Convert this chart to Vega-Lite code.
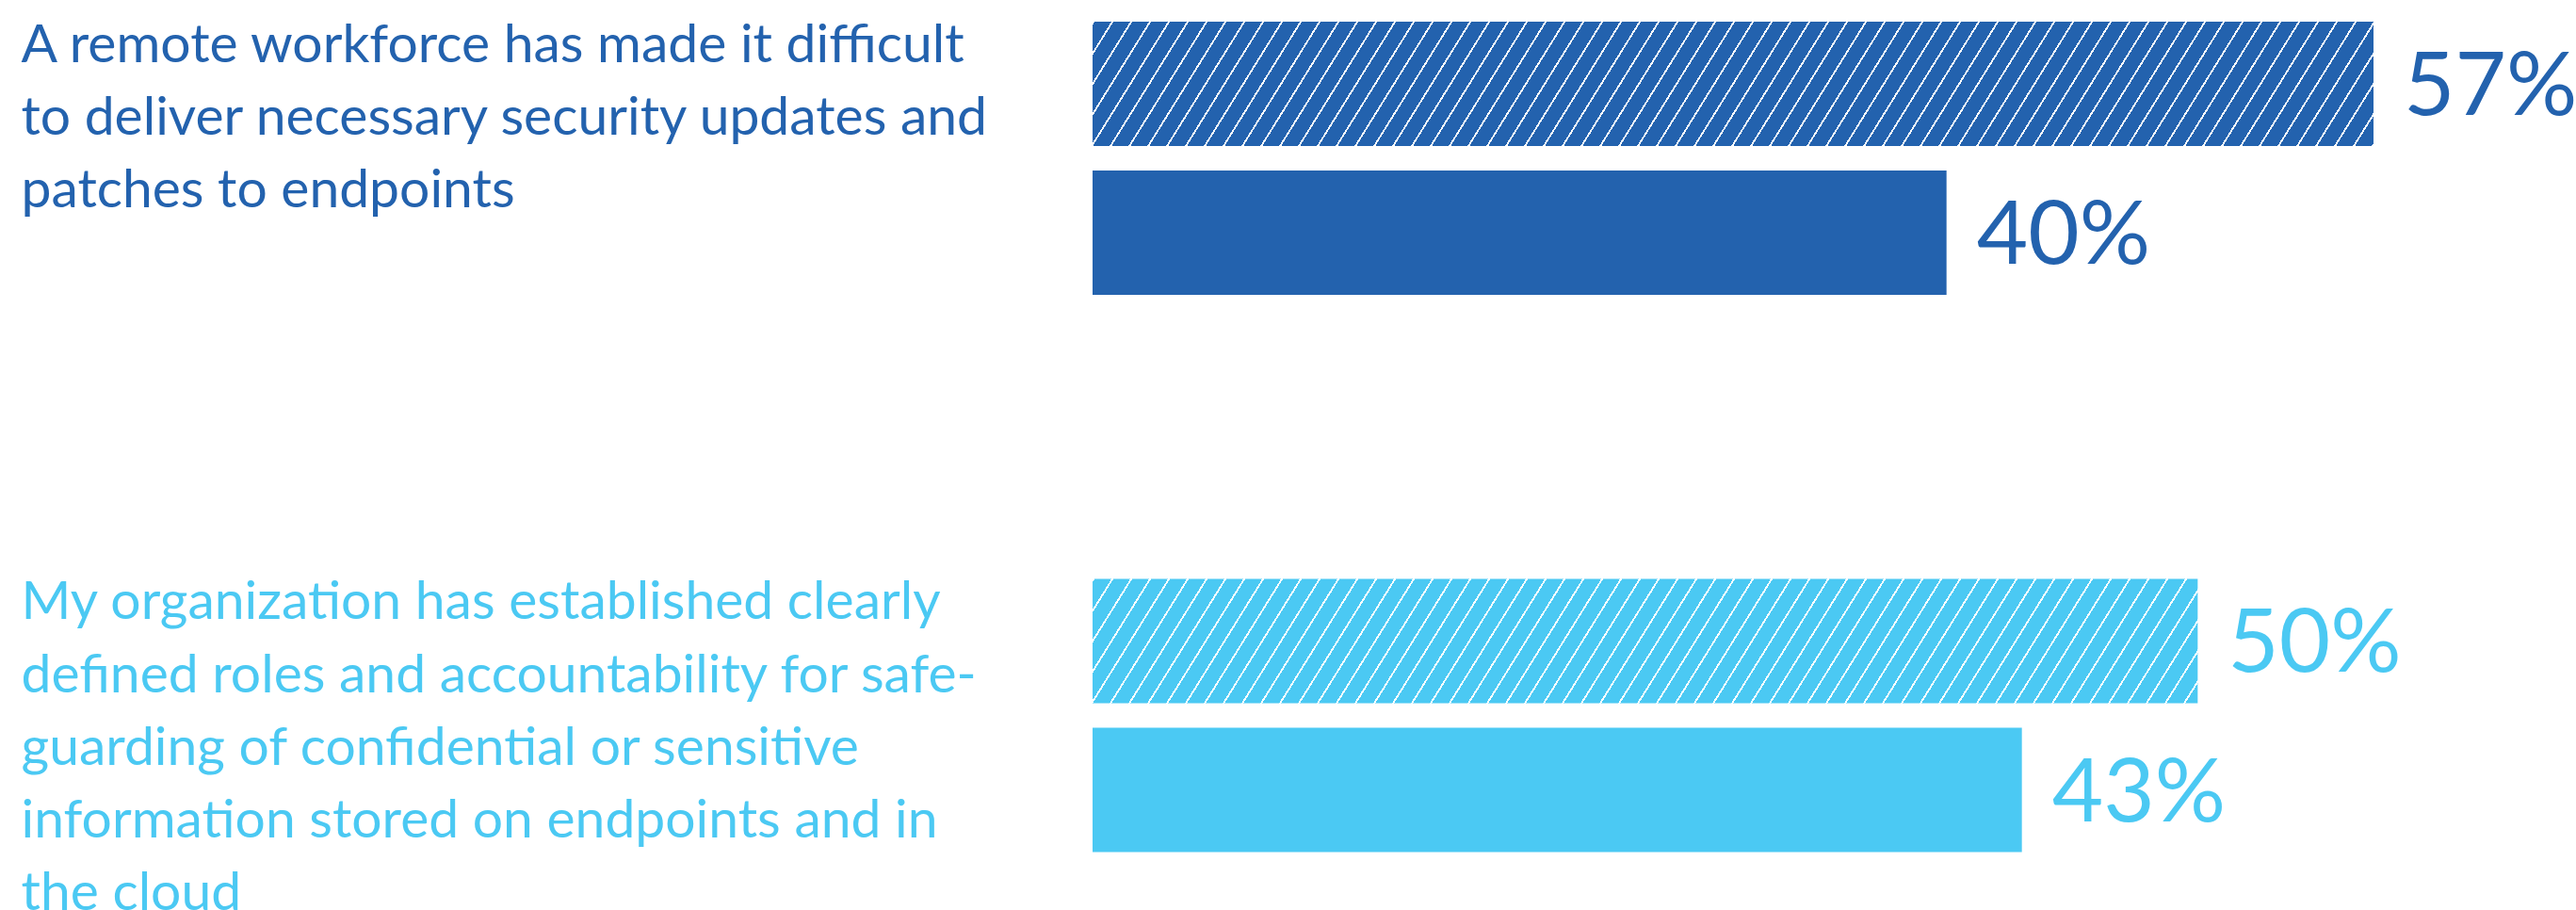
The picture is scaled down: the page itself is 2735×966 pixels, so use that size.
{
"$schema": "https://vega.github.io/schema/vega-lite/v6.json",
"width": 1440,
"height": 966,
"autosize": {"type": "none"},
"padding": {"left": 1160, "right": 135, "top": 0, "bottom": 0},
"background": "white",
"config": {"view": {"stroke": null}, "font": "Lato"},
"data": {"values": [
{"statement": "A remote workforce has made it difficult|to deliver necessary security updates and|patches to endpoints", "series": "Series 1", "value": 0.57},
{"statement": "A remote workforce has made it difficult|to deliver necessary security updates and|patches to endpoints", "series": "Series 2", "value": 0.40},
{"statement": "My organization has established clearly|defined roles and accountability for safe-|guarding of confidential or sensitive|information stored on endpoints and in|the cloud", "series": "Series 1", "value": 0.50},
{"statement": "My organization has established clearly|defined roles and accountability for safe-|guarding of confidential or sensitive|information stored on endpoints and in|the cloud", "series": "Series 2", "value": 0.43}
]},
"encoding": {
"y": {"field": "statement", "type": "nominal", "sort": null,
 "scale": {"range": [23, 904.5], "paddingInner": 0.50972, "paddingOuter": 0},
 "axis": {"title": null, "domain": false, "ticks": false, "tickSize": 0, "grid": false,
  "labelAlign": "left", "labelBaseline": "top", "labelPadding": 1138, "labelLimit": 1300, "labelOverlap": false,
  "labelFont": "Lato", "labelFontSize": 57, "labelLineHeight": 77.2, "labelOffset": -147,
  "labelExpr": "split(datum.value, '|')",
  "labelColor": {"condition": {"test": "indexof(datum.value, 'remote') >= 0", "value": "#2362ae"}, "value": "#4bc9f3"}}},
"yOffset": {"field": "series", "type": "nominal", "scale": {"domain": ["Series 1", "Series 2"], "paddingInner": 0.16456, "paddingOuter": 0}},
"x": {"field": "value", "type": "quantitative", "scale": {"domain": [0.06, 0.60], "zero": false, "nice": false}, "axis": null}
},
"layer": [
{"transform": [{"filter": "datum.series == 'Series 2'"}],
 "mark": {"type": "bar", "clip": true},
 "encoding": {"color": {"field": "statement", "type": "nominal", "sort": null, "scale": {"range": ["#2362ae", "#4bc9f3"]}, "legend": null}}},
{"transform": [{"filter": "datum.series == 'Series 1' && indexof(datum.statement, 'remote') >= 0"}],
 "mark": {"type": "bar", "clip": true, "fill": {"gradient": "linear", "x1": 0, "y1": 0, "x2": 1.311971, "y2": 0.070768, "stops": [
{"offset":0.07,"color":"#fff"},{"offset":0.0711,"color":"#fff"},{"offset":0.0711,"color":"#2362ae"},{"offset":0.08,"color":"#2362ae"},
{"offset":0.08,"color":"#fff"},{"offset":0.0811,"color":"#fff"},{"offset":0.0811,"color":"#2362ae"},{"offset":0.09,"color":"#2362ae"},
{"offset":0.09,"color":"#fff"},{"offset":0.0911,"color":"#fff"},{"offset":0.0911,"color":"#2362ae"},{"offset":0.10,"color":"#2362ae"},
{"offset":0.10,"color":"#fff"},{"offset":0.1011,"color":"#fff"},{"offset":0.1011,"color":"#2362ae"},{"offset":0.11,"color":"#2362ae"},
{"offset":0.11,"color":"#fff"},{"offset":0.1111,"color":"#fff"},{"offset":0.1111,"color":"#2362ae"},{"offset":0.12,"color":"#2362ae"},
{"offset":0.12,"color":"#fff"},{"offset":0.1211,"color":"#fff"},{"offset":0.1211,"color":"#2362ae"},{"offset":0.13,"color":"#2362ae"},
{"offset":0.13,"color":"#fff"},{"offset":0.1311,"color":"#fff"},{"offset":0.1311,"color":"#2362ae"},{"offset":0.14,"color":"#2362ae"},
{"offset":0.14,"color":"#fff"},{"offset":0.1411,"color":"#fff"},{"offset":0.1411,"color":"#2362ae"},{"offset":0.15,"color":"#2362ae"},
{"offset":0.15,"color":"#fff"},{"offset":0.1511,"color":"#fff"},{"offset":0.1511,"color":"#2362ae"},{"offset":0.16,"color":"#2362ae"},
{"offset":0.16,"color":"#fff"},{"offset":0.1611,"color":"#fff"},{"offset":0.1611,"color":"#2362ae"},{"offset":0.17,"color":"#2362ae"},
{"offset":0.17,"color":"#fff"},{"offset":0.1711,"color":"#fff"},{"offset":0.1711,"color":"#2362ae"},{"offset":0.18,"color":"#2362ae"},
{"offset":0.18,"color":"#fff"},{"offset":0.1811,"color":"#fff"},{"offset":0.1811,"color":"#2362ae"},{"offset":0.19,"color":"#2362ae"},
{"offset":0.19,"color":"#fff"},{"offset":0.1911,"color":"#fff"},{"offset":0.1911,"color":"#2362ae"},{"offset":0.20,"color":"#2362ae"},
{"offset":0.20,"color":"#fff"},{"offset":0.2011,"color":"#fff"},{"offset":0.2011,"color":"#2362ae"},{"offset":0.21,"color":"#2362ae"},
{"offset":0.21,"color":"#fff"},{"offset":0.2111,"color":"#fff"},{"offset":0.2111,"color":"#2362ae"},{"offset":0.22,"color":"#2362ae"},
{"offset":0.22,"color":"#fff"},{"offset":0.2211,"color":"#fff"},{"offset":0.2211,"color":"#2362ae"},{"offset":0.23,"color":"#2362ae"},
{"offset":0.23,"color":"#fff"},{"offset":0.2311,"color":"#fff"},{"offset":0.2311,"color":"#2362ae"},{"offset":0.24,"color":"#2362ae"},
{"offset":0.24,"color":"#fff"},{"offset":0.2411,"color":"#fff"},{"offset":0.2411,"color":"#2362ae"},{"offset":0.25,"color":"#2362ae"},
{"offset":0.25,"color":"#fff"},{"offset":0.2511,"color":"#fff"},{"offset":0.2511,"color":"#2362ae"},{"offset":0.26,"color":"#2362ae"},
{"offset":0.26,"color":"#fff"},{"offset":0.2611,"color":"#fff"},{"offset":0.2611,"color":"#2362ae"},{"offset":0.27,"color":"#2362ae"},
{"offset":0.27,"color":"#fff"},{"offset":0.2711,"color":"#fff"},{"offset":0.2711,"color":"#2362ae"},{"offset":0.28,"color":"#2362ae"},
{"offset":0.28,"color":"#fff"},{"offset":0.2811,"color":"#fff"},{"offset":0.2811,"color":"#2362ae"},{"offset":0.29,"color":"#2362ae"},
{"offset":0.29,"color":"#fff"},{"offset":0.2911,"color":"#fff"},{"offset":0.2911,"color":"#2362ae"},{"offset":0.30,"color":"#2362ae"},
{"offset":0.30,"color":"#fff"},{"offset":0.3011,"color":"#fff"},{"offset":0.3011,"color":"#2362ae"},{"offset":0.31,"color":"#2362ae"},
{"offset":0.31,"color":"#fff"},{"offset":0.3111,"color":"#fff"},{"offset":0.3111,"color":"#2362ae"},{"offset":0.32,"color":"#2362ae"},
{"offset":0.32,"color":"#fff"},{"offset":0.3211,"color":"#fff"},{"offset":0.3211,"color":"#2362ae"},{"offset":0.33,"color":"#2362ae"},
{"offset":0.33,"color":"#fff"},{"offset":0.3311,"color":"#fff"},{"offset":0.3311,"color":"#2362ae"},{"offset":0.34,"color":"#2362ae"},
{"offset":0.34,"color":"#fff"},{"offset":0.3411,"color":"#fff"},{"offset":0.3411,"color":"#2362ae"},{"offset":0.35,"color":"#2362ae"},
{"offset":0.35,"color":"#fff"},{"offset":0.3511,"color":"#fff"},{"offset":0.3511,"color":"#2362ae"},{"offset":0.36,"color":"#2362ae"},
{"offset":0.36,"color":"#fff"},{"offset":0.3611,"color":"#fff"},{"offset":0.3611,"color":"#2362ae"},{"offset":0.37,"color":"#2362ae"},
{"offset":0.37,"color":"#fff"},{"offset":0.3711,"color":"#fff"},{"offset":0.3711,"color":"#2362ae"},{"offset":0.38,"color":"#2362ae"},
{"offset":0.38,"color":"#fff"},{"offset":0.3811,"color":"#fff"},{"offset":0.3811,"color":"#2362ae"},{"offset":0.39,"color":"#2362ae"},
{"offset":0.39,"color":"#fff"},{"offset":0.3911,"color":"#fff"},{"offset":0.3911,"color":"#2362ae"},{"offset":0.40,"color":"#2362ae"},
{"offset":0.40,"color":"#fff"},{"offset":0.4011,"color":"#fff"},{"offset":0.4011,"color":"#2362ae"},{"offset":0.41,"color":"#2362ae"},
{"offset":0.41,"color":"#fff"},{"offset":0.4111,"color":"#fff"},{"offset":0.4111,"color":"#2362ae"},{"offset":0.42,"color":"#2362ae"},
{"offset":0.42,"color":"#fff"},{"offset":0.4211,"color":"#fff"},{"offset":0.4211,"color":"#2362ae"},{"offset":0.43,"color":"#2362ae"},
{"offset":0.43,"color":"#fff"},{"offset":0.4311,"color":"#fff"},{"offset":0.4311,"color":"#2362ae"},{"offset":0.44,"color":"#2362ae"},
{"offset":0.44,"color":"#fff"},{"offset":0.4411,"color":"#fff"},{"offset":0.4411,"color":"#2362ae"},{"offset":0.45,"color":"#2362ae"},
{"offset":0.45,"color":"#fff"},{"offset":0.4511,"color":"#fff"},{"offset":0.4511,"color":"#2362ae"},{"offset":0.46,"color":"#2362ae"},
{"offset":0.46,"color":"#fff"},{"offset":0.4611,"color":"#fff"},{"offset":0.4611,"color":"#2362ae"},{"offset":0.47,"color":"#2362ae"},
{"offset":0.47,"color":"#fff"},{"offset":0.4711,"color":"#fff"},{"offset":0.4711,"color":"#2362ae"},{"offset":0.48,"color":"#2362ae"},
{"offset":0.48,"color":"#fff"},{"offset":0.4811,"color":"#fff"},{"offset":0.4811,"color":"#2362ae"},{"offset":0.49,"color":"#2362ae"},
{"offset":0.49,"color":"#fff"},{"offset":0.4911,"color":"#fff"},{"offset":0.4911,"color":"#2362ae"},{"offset":0.50,"color":"#2362ae"},
{"offset":0.50,"color":"#fff"},{"offset":0.5011,"color":"#fff"},{"offset":0.5011,"color":"#2362ae"},{"offset":0.51,"color":"#2362ae"},
{"offset":0.51,"color":"#fff"},{"offset":0.5111,"color":"#fff"},{"offset":0.5111,"color":"#2362ae"},{"offset":0.52,"color":"#2362ae"},
{"offset":0.52,"color":"#fff"},{"offset":0.5211,"color":"#fff"},{"offset":0.5211,"color":"#2362ae"},{"offset":0.53,"color":"#2362ae"},
{"offset":0.53,"color":"#fff"},{"offset":0.5311,"color":"#fff"},{"offset":0.5311,"color":"#2362ae"},{"offset":0.54,"color":"#2362ae"},
{"offset":0.54,"color":"#fff"},{"offset":0.5411,"color":"#fff"},{"offset":0.5411,"color":"#2362ae"},{"offset":0.55,"color":"#2362ae"},
{"offset":0.55,"color":"#fff"},{"offset":0.5511,"color":"#fff"},{"offset":0.5511,"color":"#2362ae"},{"offset":0.56,"color":"#2362ae"},
{"offset":0.56,"color":"#fff"},{"offset":0.5611,"color":"#fff"},{"offset":0.5611,"color":"#2362ae"},{"offset":0.57,"color":"#2362ae"},
{"offset":0.57,"color":"#fff"},{"offset":0.5711,"color":"#fff"},{"offset":0.5711,"color":"#2362ae"},{"offset":0.58,"color":"#2362ae"},
{"offset":0.58,"color":"#fff"},{"offset":0.5811,"color":"#fff"},{"offset":0.5811,"color":"#2362ae"},{"offset":0.59,"color":"#2362ae"},
{"offset":0.59,"color":"#fff"},{"offset":0.5911,"color":"#fff"},{"offset":0.5911,"color":"#2362ae"},{"offset":0.60,"color":"#2362ae"},
{"offset":0.60,"color":"#fff"},{"offset":0.6011,"color":"#fff"},{"offset":0.6011,"color":"#2362ae"},{"offset":0.61,"color":"#2362ae"},
{"offset":0.61,"color":"#fff"},{"offset":0.6111,"color":"#fff"},{"offset":0.6111,"color":"#2362ae"},{"offset":0.62,"color":"#2362ae"},
{"offset":0.62,"color":"#fff"},{"offset":0.6211,"color":"#fff"},{"offset":0.6211,"color":"#2362ae"},{"offset":0.63,"color":"#2362ae"},
{"offset":0.63,"color":"#fff"},{"offset":0.6311,"color":"#fff"},{"offset":0.6311,"color":"#2362ae"},{"offset":0.64,"color":"#2362ae"},
{"offset":0.64,"color":"#fff"},{"offset":0.6411,"color":"#fff"},{"offset":0.6411,"color":"#2362ae"},{"offset":0.65,"color":"#2362ae"},
{"offset":0.65,"color":"#fff"},{"offset":0.6511,"color":"#fff"},{"offset":0.6511,"color":"#2362ae"},{"offset":0.66,"color":"#2362ae"},
{"offset":0.66,"color":"#fff"},{"offset":0.6611,"color":"#fff"},{"offset":0.6611,"color":"#2362ae"},{"offset":0.67,"color":"#2362ae"},
{"offset":0.67,"color":"#fff"},{"offset":0.6711,"color":"#fff"},{"offset":0.6711,"color":"#2362ae"},{"offset":0.68,"color":"#2362ae"},
{"offset":0.68,"color":"#fff"},{"offset":0.6811,"color":"#fff"},{"offset":0.6811,"color":"#2362ae"},{"offset":0.69,"color":"#2362ae"},
{"offset":0.69,"color":"#fff"},{"offset":0.6911,"color":"#fff"},{"offset":0.6911,"color":"#2362ae"},{"offset":0.70,"color":"#2362ae"},
{"offset":0.70,"color":"#fff"},{"offset":0.7011,"color":"#fff"},{"offset":0.7011,"color":"#2362ae"},{"offset":0.71,"color":"#2362ae"},
{"offset":0.71,"color":"#fff"},{"offset":0.7111,"color":"#fff"},{"offset":0.7111,"color":"#2362ae"},{"offset":0.72,"color":"#2362ae"},
{"offset":0.72,"color":"#fff"},{"offset":0.7211,"color":"#fff"},{"offset":0.7211,"color":"#2362ae"},{"offset":0.73,"color":"#2362ae"},
{"offset":0.73,"color":"#fff"},{"offset":0.7311,"color":"#fff"},{"offset":0.7311,"color":"#2362ae"},{"offset":0.74,"color":"#2362ae"},
{"offset":0.74,"color":"#fff"},{"offset":0.7411,"color":"#fff"},{"offset":0.7411,"color":"#2362ae"},{"offset":0.75,"color":"#2362ae"},
{"offset":0.75,"color":"#fff"},{"offset":0.7511,"color":"#fff"},{"offset":0.7511,"color":"#2362ae"},{"offset":0.76,"color":"#2362ae"},
{"offset":0.76,"color":"#fff"},{"offset":0.7611,"color":"#fff"},{"offset":0.7611,"color":"#2362ae"},{"offset":0.77,"color":"#2362ae"},
{"offset":0.77,"color":"#fff"},{"offset":0.7711,"color":"#fff"},{"offset":0.7711,"color":"#2362ae"},{"offset":0.78,"color":"#2362ae"},
{"offset":0.78,"color":"#fff"},{"offset":0.7811,"color":"#fff"},{"offset":0.7811,"color":"#2362ae"},{"offset":0.79,"color":"#2362ae"},
{"offset":0.79,"color":"#fff"},{"offset":0.7911,"color":"#fff"},{"offset":0.7911,"color":"#2362ae"},{"offset":0.80,"color":"#2362ae"},
{"offset":0.80,"color":"#fff"},{"offset":0.8011,"color":"#fff"},{"offset":0.8011,"color":"#2362ae"},{"offset":0.81,"color":"#2362ae"}
]}}},
{"transform": [{"filter": "datum.series == 'Series 1' && indexof(datum.statement, 'remote') < 0"}],
 "mark": {"type": "bar", "clip": true, "fill": {"gradient": "linear", "x1": 0, "y1": 0, "x2": 1.494352, "y2": 0.091889, "stops": [
{"offset":0.07,"color":"#fff"},{"offset":0.0711,"color":"#fff"},{"offset":0.0711,"color":"#4bc9f3"},{"offset":0.08,"color":"#4bc9f3"},
{"offset":0.08,"color":"#fff"},{"offset":0.0811,"color":"#fff"},{"offset":0.0811,"color":"#4bc9f3"},{"offset":0.09,"color":"#4bc9f3"},
{"offset":0.09,"color":"#fff"},{"offset":0.0911,"color":"#fff"},{"offset":0.0911,"color":"#4bc9f3"},{"offset":0.10,"color":"#4bc9f3"},
{"offset":0.10,"color":"#fff"},{"offset":0.1011,"color":"#fff"},{"offset":0.1011,"color":"#4bc9f3"},{"offset":0.11,"color":"#4bc9f3"},
{"offset":0.11,"color":"#fff"},{"offset":0.1111,"color":"#fff"},{"offset":0.1111,"color":"#4bc9f3"},{"offset":0.12,"color":"#4bc9f3"},
{"offset":0.12,"color":"#fff"},{"offset":0.1211,"color":"#fff"},{"offset":0.1211,"color":"#4bc9f3"},{"offset":0.13,"color":"#4bc9f3"},
{"offset":0.13,"color":"#fff"},{"offset":0.1311,"color":"#fff"},{"offset":0.1311,"color":"#4bc9f3"},{"offset":0.14,"color":"#4bc9f3"},
{"offset":0.14,"color":"#fff"},{"offset":0.1411,"color":"#fff"},{"offset":0.1411,"color":"#4bc9f3"},{"offset":0.15,"color":"#4bc9f3"},
{"offset":0.15,"color":"#fff"},{"offset":0.1511,"color":"#fff"},{"offset":0.1511,"color":"#4bc9f3"},{"offset":0.16,"color":"#4bc9f3"},
{"offset":0.16,"color":"#fff"},{"offset":0.1611,"color":"#fff"},{"offset":0.1611,"color":"#4bc9f3"},{"offset":0.17,"color":"#4bc9f3"},
{"offset":0.17,"color":"#fff"},{"offset":0.1711,"color":"#fff"},{"offset":0.1711,"color":"#4bc9f3"},{"offset":0.18,"color":"#4bc9f3"},
{"offset":0.18,"color":"#fff"},{"offset":0.1811,"color":"#fff"},{"offset":0.1811,"color":"#4bc9f3"},{"offset":0.19,"color":"#4bc9f3"},
{"offset":0.19,"color":"#fff"},{"offset":0.1911,"color":"#fff"},{"offset":0.1911,"color":"#4bc9f3"},{"offset":0.20,"color":"#4bc9f3"},
{"offset":0.20,"color":"#fff"},{"offset":0.2011,"color":"#fff"},{"offset":0.2011,"color":"#4bc9f3"},{"offset":0.21,"color":"#4bc9f3"},
{"offset":0.21,"color":"#fff"},{"offset":0.2111,"color":"#fff"},{"offset":0.2111,"color":"#4bc9f3"},{"offset":0.22,"color":"#4bc9f3"},
{"offset":0.22,"color":"#fff"},{"offset":0.2211,"color":"#fff"},{"offset":0.2211,"color":"#4bc9f3"},{"offset":0.23,"color":"#4bc9f3"},
{"offset":0.23,"color":"#fff"},{"offset":0.2311,"color":"#fff"},{"offset":0.2311,"color":"#4bc9f3"},{"offset":0.24,"color":"#4bc9f3"},
{"offset":0.24,"color":"#fff"},{"offset":0.2411,"color":"#fff"},{"offset":0.2411,"color":"#4bc9f3"},{"offset":0.25,"color":"#4bc9f3"},
{"offset":0.25,"color":"#fff"},{"offset":0.2511,"color":"#fff"},{"offset":0.2511,"color":"#4bc9f3"},{"offset":0.26,"color":"#4bc9f3"},
{"offset":0.26,"color":"#fff"},{"offset":0.2611,"color":"#fff"},{"offset":0.2611,"color":"#4bc9f3"},{"offset":0.27,"color":"#4bc9f3"},
{"offset":0.27,"color":"#fff"},{"offset":0.2711,"color":"#fff"},{"offset":0.2711,"color":"#4bc9f3"},{"offset":0.28,"color":"#4bc9f3"},
{"offset":0.28,"color":"#fff"},{"offset":0.2811,"color":"#fff"},{"offset":0.2811,"color":"#4bc9f3"},{"offset":0.29,"color":"#4bc9f3"},
{"offset":0.29,"color":"#fff"},{"offset":0.2911,"color":"#fff"},{"offset":0.2911,"color":"#4bc9f3"},{"offset":0.30,"color":"#4bc9f3"},
{"offset":0.30,"color":"#fff"},{"offset":0.3011,"color":"#fff"},{"offset":0.3011,"color":"#4bc9f3"},{"offset":0.31,"color":"#4bc9f3"},
{"offset":0.31,"color":"#fff"},{"offset":0.3111,"color":"#fff"},{"offset":0.3111,"color":"#4bc9f3"},{"offset":0.32,"color":"#4bc9f3"},
{"offset":0.32,"color":"#fff"},{"offset":0.3211,"color":"#fff"},{"offset":0.3211,"color":"#4bc9f3"},{"offset":0.33,"color":"#4bc9f3"},
{"offset":0.33,"color":"#fff"},{"offset":0.3311,"color":"#fff"},{"offset":0.3311,"color":"#4bc9f3"},{"offset":0.34,"color":"#4bc9f3"},
{"offset":0.34,"color":"#fff"},{"offset":0.3411,"color":"#fff"},{"offset":0.3411,"color":"#4bc9f3"},{"offset":0.35,"color":"#4bc9f3"},
{"offset":0.35,"color":"#fff"},{"offset":0.3511,"color":"#fff"},{"offset":0.3511,"color":"#4bc9f3"},{"offset":0.36,"color":"#4bc9f3"},
{"offset":0.36,"color":"#fff"},{"offset":0.3611,"color":"#fff"},{"offset":0.3611,"color":"#4bc9f3"},{"offset":0.37,"color":"#4bc9f3"},
{"offset":0.37,"color":"#fff"},{"offset":0.3711,"color":"#fff"},{"offset":0.3711,"color":"#4bc9f3"},{"offset":0.38,"color":"#4bc9f3"},
{"offset":0.38,"color":"#fff"},{"offset":0.3811,"color":"#fff"},{"offset":0.3811,"color":"#4bc9f3"},{"offset":0.39,"color":"#4bc9f3"},
{"offset":0.39,"color":"#fff"},{"offset":0.3911,"color":"#fff"},{"offset":0.3911,"color":"#4bc9f3"},{"offset":0.40,"color":"#4bc9f3"},
{"offset":0.40,"color":"#fff"},{"offset":0.4011,"color":"#fff"},{"offset":0.4011,"color":"#4bc9f3"},{"offset":0.41,"color":"#4bc9f3"},
{"offset":0.41,"color":"#fff"},{"offset":0.4111,"color":"#fff"},{"offset":0.4111,"color":"#4bc9f3"},{"offset":0.42,"color":"#4bc9f3"},
{"offset":0.42,"color":"#fff"},{"offset":0.4211,"color":"#fff"},{"offset":0.4211,"color":"#4bc9f3"},{"offset":0.43,"color":"#4bc9f3"},
{"offset":0.43,"color":"#fff"},{"offset":0.4311,"color":"#fff"},{"offset":0.4311,"color":"#4bc9f3"},{"offset":0.44,"color":"#4bc9f3"},
{"offset":0.44,"color":"#fff"},{"offset":0.4411,"color":"#fff"},{"offset":0.4411,"color":"#4bc9f3"},{"offset":0.45,"color":"#4bc9f3"},
{"offset":0.45,"color":"#fff"},{"offset":0.4511,"color":"#fff"},{"offset":0.4511,"color":"#4bc9f3"},{"offset":0.46,"color":"#4bc9f3"},
{"offset":0.46,"color":"#fff"},{"offset":0.4611,"color":"#fff"},{"offset":0.4611,"color":"#4bc9f3"},{"offset":0.47,"color":"#4bc9f3"},
{"offset":0.47,"color":"#fff"},{"offset":0.4711,"color":"#fff"},{"offset":0.4711,"color":"#4bc9f3"},{"offset":0.48,"color":"#4bc9f3"},
{"offset":0.48,"color":"#fff"},{"offset":0.4811,"color":"#fff"},{"offset":0.4811,"color":"#4bc9f3"},{"offset":0.49,"color":"#4bc9f3"},
{"offset":0.49,"color":"#fff"},{"offset":0.4911,"color":"#fff"},{"offset":0.4911,"color":"#4bc9f3"},{"offset":0.50,"color":"#4bc9f3"},
{"offset":0.50,"color":"#fff"},{"offset":0.5011,"color":"#fff"},{"offset":0.5011,"color":"#4bc9f3"},{"offset":0.51,"color":"#4bc9f3"},
{"offset":0.51,"color":"#fff"},{"offset":0.5111,"color":"#fff"},{"offset":0.5111,"color":"#4bc9f3"},{"offset":0.52,"color":"#4bc9f3"},
{"offset":0.52,"color":"#fff"},{"offset":0.5211,"color":"#fff"},{"offset":0.5211,"color":"#4bc9f3"},{"offset":0.53,"color":"#4bc9f3"},
{"offset":0.53,"color":"#fff"},{"offset":0.5311,"color":"#fff"},{"offset":0.5311,"color":"#4bc9f3"},{"offset":0.54,"color":"#4bc9f3"},
{"offset":0.54,"color":"#fff"},{"offset":0.5411,"color":"#fff"},{"offset":0.5411,"color":"#4bc9f3"},{"offset":0.55,"color":"#4bc9f3"},
{"offset":0.55,"color":"#fff"},{"offset":0.5511,"color":"#fff"},{"offset":0.5511,"color":"#4bc9f3"},{"offset":0.56,"color":"#4bc9f3"},
{"offset":0.56,"color":"#fff"},{"offset":0.5611,"color":"#fff"},{"offset":0.5611,"color":"#4bc9f3"},{"offset":0.57,"color":"#4bc9f3"},
{"offset":0.57,"color":"#fff"},{"offset":0.5711,"color":"#fff"},{"offset":0.5711,"color":"#4bc9f3"},{"offset":0.58,"color":"#4bc9f3"},
{"offset":0.58,"color":"#fff"},{"offset":0.5811,"color":"#fff"},{"offset":0.5811,"color":"#4bc9f3"},{"offset":0.59,"color":"#4bc9f3"},
{"offset":0.59,"color":"#fff"},{"offset":0.5911,"color":"#fff"},{"offset":0.5911,"color":"#4bc9f3"},{"offset":0.60,"color":"#4bc9f3"},
{"offset":0.60,"color":"#fff"},{"offset":0.6011,"color":"#fff"},{"offset":0.6011,"color":"#4bc9f3"},{"offset":0.61,"color":"#4bc9f3"},
{"offset":0.61,"color":"#fff"},{"offset":0.6111,"color":"#fff"},{"offset":0.6111,"color":"#4bc9f3"},{"offset":0.62,"color":"#4bc9f3"},
{"offset":0.62,"color":"#fff"},{"offset":0.6211,"color":"#fff"},{"offset":0.6211,"color":"#4bc9f3"},{"offset":0.63,"color":"#4bc9f3"},
{"offset":0.63,"color":"#fff"},{"offset":0.6311,"color":"#fff"},{"offset":0.6311,"color":"#4bc9f3"},{"offset":0.64,"color":"#4bc9f3"},
{"offset":0.64,"color":"#fff"},{"offset":0.6411,"color":"#fff"},{"offset":0.6411,"color":"#4bc9f3"},{"offset":0.65,"color":"#4bc9f3"},
{"offset":0.65,"color":"#fff"},{"offset":0.6511,"color":"#fff"},{"offset":0.6511,"color":"#4bc9f3"},{"offset":0.66,"color":"#4bc9f3"},
{"offset":0.66,"color":"#fff"},{"offset":0.6611,"color":"#fff"},{"offset":0.6611,"color":"#4bc9f3"},{"offset":0.67,"color":"#4bc9f3"},
{"offset":0.67,"color":"#fff"},{"offset":0.6711,"color":"#fff"},{"offset":0.6711,"color":"#4bc9f3"},{"offset":0.68,"color":"#4bc9f3"},
{"offset":0.68,"color":"#fff"},{"offset":0.6811,"color":"#fff"},{"offset":0.6811,"color":"#4bc9f3"},{"offset":0.69,"color":"#4bc9f3"},
{"offset":0.69,"color":"#fff"},{"offset":0.6911,"color":"#fff"},{"offset":0.6911,"color":"#4bc9f3"},{"offset":0.70,"color":"#4bc9f3"},
{"offset":0.70,"color":"#fff"},{"offset":0.7011,"color":"#fff"},{"offset":0.7011,"color":"#4bc9f3"},{"offset":0.71,"color":"#4bc9f3"},
{"offset":0.71,"color":"#fff"},{"offset":0.7111,"color":"#fff"},{"offset":0.7111,"color":"#4bc9f3"},{"offset":0.72,"color":"#4bc9f3"}
]}}},
{"mark": {"type": "text", "align": "left", "baseline": "middle", "dx": 32, "dy": 5, "fontSize": 94, "font": "Lato"},
 "encoding": {
  "text": {"field": "value", "type": "quantitative", "format": ".0%"},
  "color": {"field": "statement", "type": "nominal", "sort": null, "scale": {"range": ["#2362ae", "#4bc9f3"]}, "legend": null}}}
]
}
